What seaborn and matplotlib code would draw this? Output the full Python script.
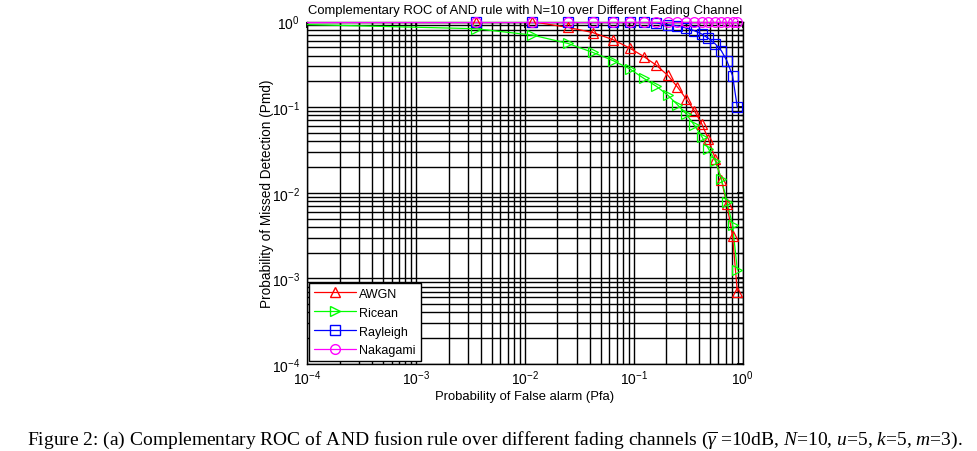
import numpy as np
import pandas as pd
import matplotlib
matplotlib.use("Agg")
import matplotlib.pyplot as plt
import seaborn as sns
from matplotlib.lines import Line2D

# Pfa grid shared by all channels (first point lies left of the axis, only its line shows)
pfa = [1e-5, 0.00355, 0.0117, 0.0248, 0.0421, 0.0653, 0.0925, 0.124, 0.162, 0.206,
       0.252, 0.305, 0.361, 0.423, 0.486, 0.563, 0.639, 0.718, 0.810, 0.896]
pmd_awgn = [1.0, 0.999, 0.995, 0.855, 0.744, 0.611, 0.488, 0.390, 0.308, 0.235,
            0.173, 0.124, 0.0912, 0.0635, 0.0424, 0.0249, 0.0142, 0.0074, 0.0031, 0.0007]
pmd_ricean = [0.99, 0.824, 0.695, 0.556, 0.436, 0.348, 0.279, 0.217, 0.175, 0.138,
              0.107, 0.083, 0.0613, 0.0453, 0.0327, 0.0235, 0.0146, 0.0079, 0.0042, 0.00125]
pmd_rayleigh = [0.999, 0.998, 0.998, 0.998, 0.998, 0.998, 0.98, 0.98, 0.96, 0.917,
                0.893, 0.839, 0.781, 0.714, 0.636, 0.546, 0.456, 0.348, 0.233, 0.0994]
pmd_nakagami = [0.998, 0.998, 0.998, 0.998, 0.998, 0.998, 0.998, 0.998, 0.998, 0.998,
                0.998, 0.998, 0.998, 0.998, 0.998, 0.998, 0.998, 0.998, 0.998, 0.998]

channels = ["AWGN", "Ricean", "Rayleigh", "Nakagami"]
colors = ["#ff0000", "#00ff00", "#0000ff", "#ff00ff"]
markers = ["^", ">", "s", "o"]

sns.set_theme(style="white")
plt.rcParams["font.family"] = ["Liberation Sans", "DejaVu Sans"]
plt.rcParams["mathtext.fontset"] = "custom"
plt.rcParams["mathtext.rm"] = "Liberation Sans"
plt.rcParams["mathtext.it"] = "Liberation Serif:italic"
plt.rcParams["axes.unicode_minus"] = False
plt.rcParams["text.color"] = "black"
plt.rcParams["axes.labelcolor"] = "black"

df = pd.DataFrame({
    "pfa": pfa * 4,
    "pmd": pmd_awgn + pmd_ricean + pmd_rayleigh + pmd_nakagami,
    "channel": np.repeat(channels, len(pfa)),
})

fig = plt.figure(figsize=(9.77, 4.52), dpi=100)
ax = fig.add_axes([0.314, 0.1925, 0.446, 0.7577])

for ch, col, mk in zip(channels, colors, markers):
    sub = df[df["channel"] == ch]
    sns.lineplot(data=sub, x="pfa", y="pmd", ax=ax, color=col, lw=0.9,
                 sort=False, estimator=None, zorder=3)
    vis = sub[sub["pfa"] >= 1e-4]
    sns.lineplot(data=vis, x="pfa", y="pmd", ax=ax, color=col, linestyle="none",
                 marker=mk, markersize=7, markerfacecolor="none", markeredgecolor=col,
                 markeredgewidth=0.9, sort=False, estimator=None, clip_on=False, zorder=4)

ax.set_xscale("log")
ax.set_yscale("log")
ax.set_xlim(1e-4, 1)
ax.set_ylim(1e-4, 1)
ax.grid(True, which="both", color="black", linestyle="-", linewidth=1.0)
ax.tick_params(which="both", direction="in", top=True, right=True, colors="black",
               labelsize=10)
ax.tick_params(axis="x", pad=3)
ax.tick_params(axis="y", pad=5)
ax.tick_params(which="major", length=4)
ax.tick_params(which="minor", length=2)
for sp in ax.spines.values():
    sp.set_color("black")
    sp.set_linewidth(1.0)

ax.set_title("Complementary ROC of AND rule with N=10 over Different Fading Channel",
             fontsize=9.4, pad=6, color="black")
ax.set_xlabel("Probability of False alarm (Pfa)", fontsize=9.4, labelpad=2)
ax.set_ylabel("Probability of Missed Detection (Pmd)", fontsize=9.8, labelpad=-2)

handles = [Line2D([], [], color=c, marker=m, markersize=7, markerfacecolor="none",
                  lw=0.9, label=ch) for ch, c, m in zip(channels, colors, markers)]
leg = ax.legend(handles=handles, loc="lower left", borderaxespad=0.2, fontsize=9,
                handlelength=3.3, handletextpad=0.3, labelspacing=0.55, frameon=True,
                fancybox=False, framealpha=1, edgecolor="black")
leg.get_frame().set_linewidth(1.0)

fig.text(0.5066, 0.027,
         r"Figure 2: (a) Complementary ROC of AND fusion rule over different fading channels "
         r"($\overline{\gamma}$ =10dB, $N$=10, $u$=5, $k$=5, $m$=3).",
         ha="center", va="center", fontsize=14.0, family="Liberation Serif")

fig.savefig("out.png", dpi=100)
